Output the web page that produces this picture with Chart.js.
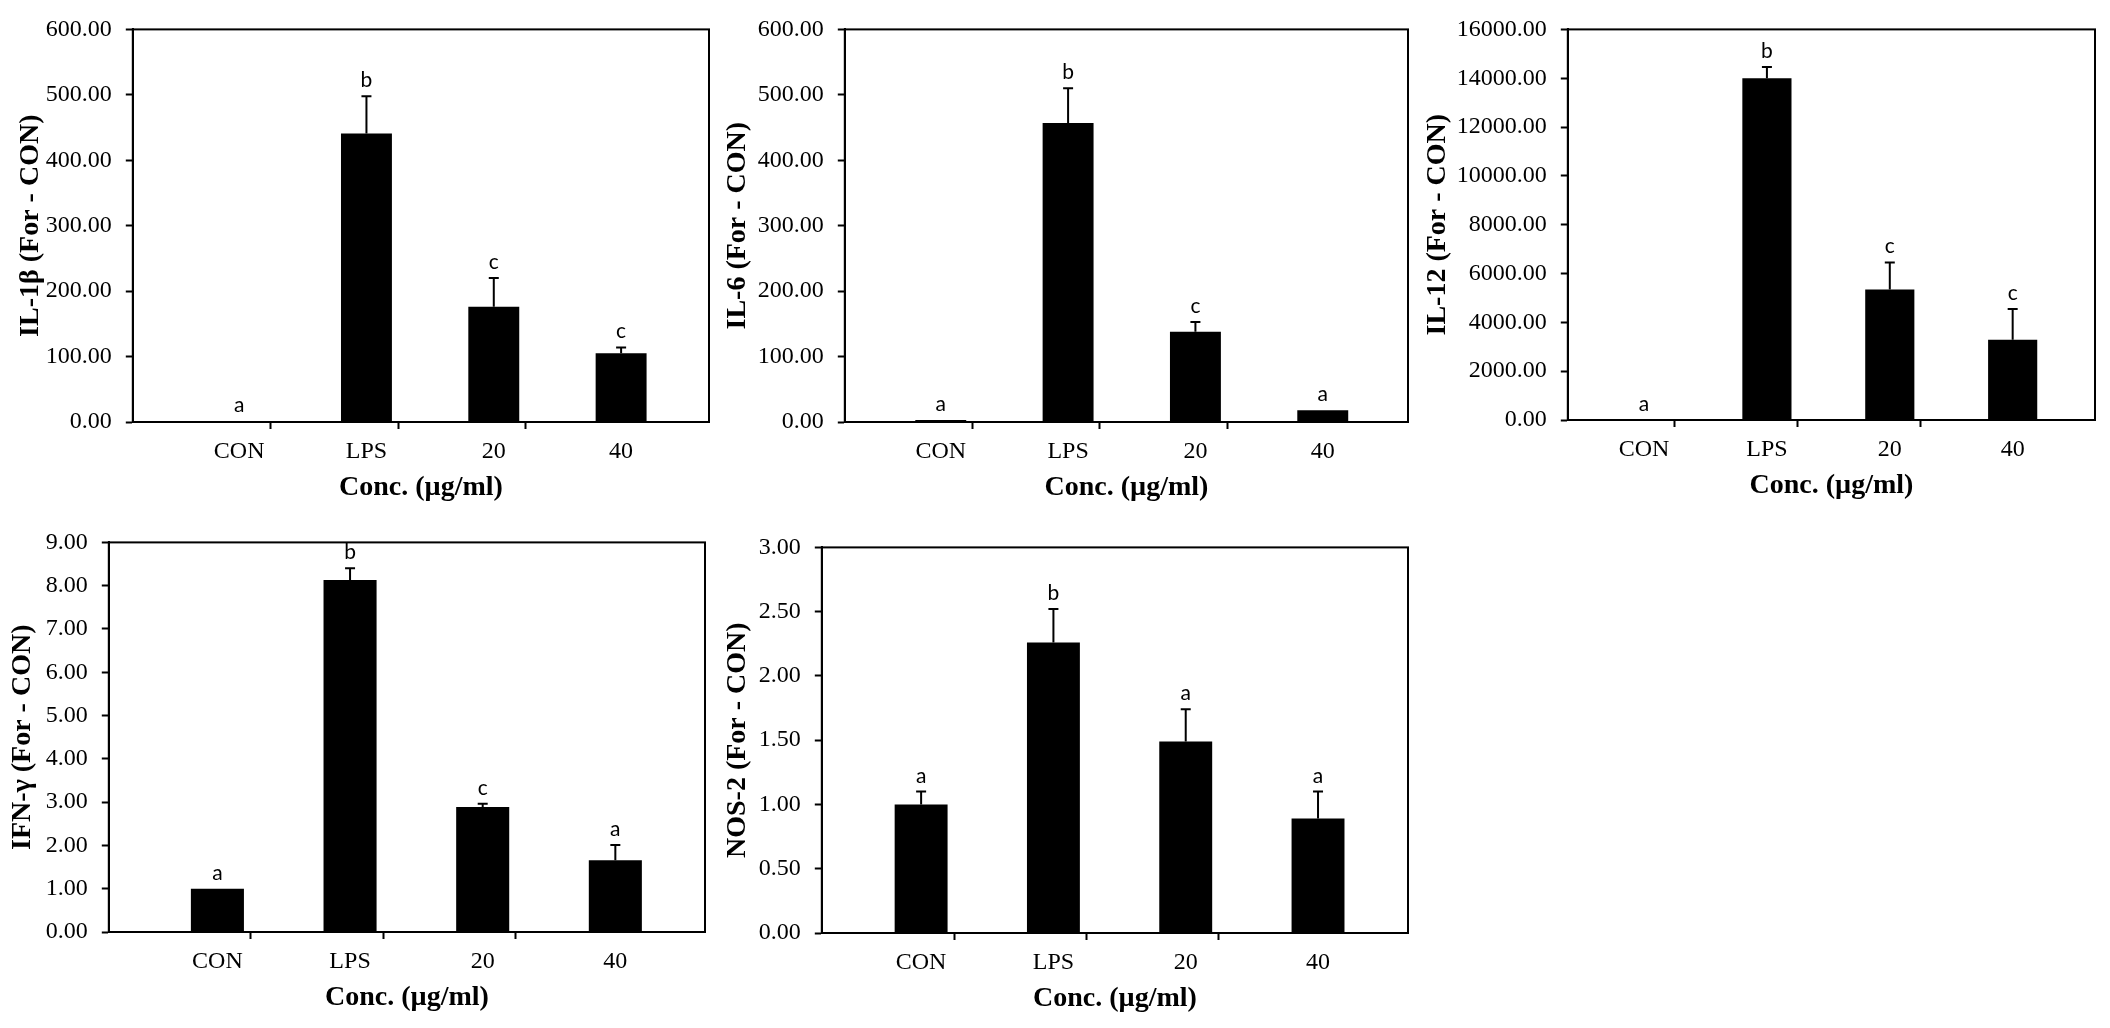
<!DOCTYPE html>
<html>
<head>
<meta charset="utf-8">
<script src="https://cdn.jsdelivr.net/npm/chart.js@4.4.1/dist/chart.umd.min.js"></script>
<style>
html, body { margin: 0; padding: 0; background: #fff; }
body { width: 2110px; height: 1028px; position: relative; overflow: hidden; }
canvas { position: absolute; }
</style>
</head>
<body>
<script>
const categories = ['CON', 'LPS', '20', '40'];

const il1bMeans = [1, 441, 176, 105];
const il1bErrs = [0, 57, 44, 9];
const il1bLetters = ['a', 'b', 'c', 'c'];

const il6Means = [3, 457, 138, 18];
const il6Errs = [0, 53, 15, 0];
const il6Letters = ['a', 'b', 'c', 'a'];

const il12Means = [1, 14000, 5345, 3290];
const il12Errs = [0, 460, 1110, 1255];
const il12Letters = ['a', 'b', 'c', 'c'];

const ifngMeans = [1.00, 8.13, 2.89, 1.66];
const ifngErrs = [0, 0.27, 0.07, 0.35];
const ifngLetters = ['a', 'b', 'c', 'a'];

const nos2Means = [1.00, 2.26, 1.49, 0.89];
const nos2Errs = [0.10, 0.26, 0.25, 0.21];
const nos2Letters = ['a', 'b', 'a', 'a'];

const yTitles = ['IL-1β (For - CON)', 'IL-6 (For - CON)', 'IL-12 (For - CON)', 'IFN-γ (For - CON)', 'NOS-2 (For - CON)'];
const yMaxes = [600, 600, 16000, 9, 3];
const ySteps = [100, 100, 2000, 1, 0.5];
const xTitle = 'Conc. (µg/ml)';

// where each panel sits on the page (axis line, right border, top, bottom,
// centre of first bar, bar spacing, distance from axis to the y title)
const layout = [
    { axisX: 133, right: 709, top: 21, bottom: 422, firstX: 209, gap: 148.5, titleGap: 102 },
    { axisX: 845, right: 1408, top: 21, bottom: 422, firstX: 910, gap: 148.5, titleGap: 107 },
    { axisX: 1568, right: 2095, top: 21, bottom: 420, firstX: 1613, gap: 143.3, titleGap: 130 },
    { axisX: 109, right: 705, top: 534, bottom: 932, firstX: 186, gap: 154.7, titleGap: 86 },
    { axisX: 822, right: 1408, top: 539, bottom: 933, firstX: 889, gap: 154.3, titleGap: 84 }
];

const serif = "'Liberation Serif', 'Times New Roman', serif";
const TITLE_LH = 28 * 1.2;
const X_AXIS_H = 87;
const PAD_TOP = 20;
const PAD_RIGHT = 12;

// error bars, letters and the box round the plot
const extras = {
    id: 'extras',
    afterDatasetsDraw(chart, args, opts) {
        const { ctx, chartArea: a, scales: { y } } = chart;
        const bars = chart.getDatasetMeta(0).data;
        ctx.save();
        ctx.strokeStyle = '#000';
        ctx.fillStyle = '#000';
        ctx.lineWidth = 2;
        bars.forEach((bar, k) => {
            const err = opts.errs[k];
            const yTop = y.getPixelForValue(opts.means[k] + err);
            if (err > 0) {
                ctx.beginPath();
                ctx.moveTo(bar.x, bar.y);
                ctx.lineTo(bar.x, yTop);
                ctx.moveTo(bar.x - 5, yTop);
                ctx.lineTo(bar.x + 5, yTop);
                ctx.stroke();
            }
            ctx.font = '21px Lato';
            ctx.textAlign = 'center';
            ctx.textBaseline = 'alphabetic';
            ctx.fillText(opts.letters[k], bar.x, yTop - 9);
        });
        ctx.strokeRect(a.left, a.top, a.width, a.height);
        ctx.restore();
    }
};

function drawPanel(i, means, errs, letters) {
    const L = layout[i];
    const yW = L.titleGap + TITLE_LH / 2;
    const left = L.axisX - yW;
    const top = L.top - PAD_TOP;
    const width = Math.round(L.right + PAD_RIGHT - left);
    const height = Math.round(L.bottom + X_AXIS_H - top);
    const xMin = (L.axisX - L.firstX) / L.gap;
    const xMax = (L.right - L.firstX) / L.gap;

    const cv = document.createElement('canvas');
    cv.width = width;
    cv.height = height;
    cv.style.left = left + 'px';
    cv.style.top = top + 'px';
    cv.style.width = width + 'px';
    cv.style.height = height + 'px';
    document.body.appendChild(cv);

    new Chart(cv, {
        type: 'bar',
        data: {
            datasets: [{
                data: means.map((v, k) => ({ x: k, y: v })),
                backgroundColor: '#000',
                borderWidth: 0,
                categoryPercentage: 1.0,
                barPercentage: 0.8
            }]
        },
        options: {
            responsive: false,
            animation: false,
            layout: { padding: { top: PAD_TOP, right: PAD_RIGHT, left: 0, bottom: 0 } },
            plugins: {
                legend: { display: false },
                tooltip: { enabled: false },
                extras: { means: means, errs: errs, letters: letters }
            },
            scales: {
                x: {
                    type: 'linear',
                    min: xMin,
                    max: xMax,
                    afterBuildTicks: s => {
                        s.ticks = [0, 0.5, 1, 1.5, 2, 2.5, 3].map(v => ({ value: v }));
                    },
                    afterFit: s => { s.height = X_AXIS_H; },
                    ticks: {
                        autoSkip: false,
                        maxRotation: 0,
                        padding: 8,
                        color: '#000',
                        font: { family: serif, size: 24 },
                        callback: v => Number.isInteger(v) ? categories[v] : ''
                    },
                    grid: {
                        drawOnChartArea: false,
                        tickLength: 7,
                        tickWidth: 2,
                        tickColor: c => (c.tick && !Number.isInteger(c.tick.value)) ? '#000' : 'rgba(0,0,0,0)'
                    },
                    border: { display: true, color: '#000', width: 2 },
                    title: {
                        display: true,
                        text: xTitle,
                        color: '#000',
                        font: { family: serif, size: 28, weight: 'bold' },
                        padding: { top: 0, bottom: 4 }
                    }
                },
                y: {
                    min: 0,
                    max: yMaxes[i],
                    afterFit: s => { s.width = yW; },
                    ticks: {
                        stepSize: ySteps[i],
                        padding: 14,
                        color: '#000',
                        font: { family: serif, size: 24 },
                        callback: v => Number(v).toFixed(2)
                    },
                    grid: { drawOnChartArea: false, tickLength: 7, tickWidth: 2, color: '#000' },
                    border: { display: true, color: '#000', width: 2 },
                    title: {
                        display: true,
                        text: yTitles[i],
                        color: '#000',
                        font: { family: serif, size: 28, weight: 'bold' },
                        padding: { top: 0, bottom: 0 }
                    }
                }
            }
        },
        plugins: [extras]
    });
}

drawPanel(0, il1bMeans, il1bErrs, il1bLetters);
drawPanel(1, il6Means, il6Errs, il6Letters);
drawPanel(2, il12Means, il12Errs, il12Letters);
drawPanel(3, ifngMeans, ifngErrs, ifngLetters);
drawPanel(4, nos2Means, nos2Errs, nos2Letters);
</script>
</body>
</html>
